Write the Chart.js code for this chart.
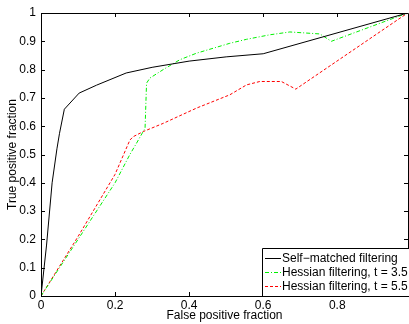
<!DOCTYPE html>
<html>
<head>
<meta charset="utf-8">
<script src="https://cdn.jsdelivr.net/npm/chart.js@4/dist/chart.umd.min.js"></script>
<style>
html,body{margin:0;padding:0;background:#fff;}
canvas{display:block;}
</style>
</head>
<body>
<canvas id="c" width="409" height="324"></canvas>
<script>
// ---- data ----
const seriesNames = ["Self\u2212matched filtering", "Hessian filtering, t = 3.5", "Hessian filtering, t = 5.5"];

const fprSelf = [0, 0.015, 0.03, 0.043, 0.05, 0.063, 0.103, 0.15, 0.23, 0.3, 0.4, 0.5, 0.6, 0.99];
const tprSelf = [0, 0.18, 0.40, 0.52, 0.575, 0.66, 0.717, 0.745, 0.788, 0.808, 0.83, 0.845, 0.856, 1.0];

const fprH35 = [0, 0.1, 0.2, 0.24, 0.258, 0.281, 0.285, 0.294, 0.33, 0.375, 0.42, 0.51, 0.555, 0.618, 0.672, 0.753, 0.784, 0.99];
const tprH35 = [0, 0.2, 0.40, 0.50, 0.54, 0.593, 0.752, 0.77, 0.80, 0.835, 0.858, 0.893, 0.907, 0.923, 0.933, 0.926, 0.90, 1.0];

const fprH55 = [0, 0.1, 0.2, 0.24, 0.249, 0.276, 0.33, 0.42, 0.51, 0.555, 0.591, 0.649, 0.688, 0.99];
const tprH55 = [0, 0.21, 0.43, 0.551, 0.563, 0.581, 0.61, 0.664, 0.711, 0.746, 0.758, 0.758, 0.731, 1.0];

const xTicks = [0, 0.2, 0.4, 0.6, 0.8];
const yTicks = [0, 0.1, 0.2, 0.3, 0.4, 0.5, 0.6, 0.7, 0.8, 0.9, 1];
const xTitle = "False positive fraction";
const yTitle = "True positive fraction";

const pts = (xs, ys) => xs.map((x, i) => ({x: x, y: ys[i]}));
const FONT = "'Liberation Sans', Arial, Helvetica, sans-serif";

const boxPlugin = {
  id: 'box',
  afterDraw(chart) {
    const ctx = chart.ctx, a = chart.chartArea;
    const xs = chart.scales.x, ys = chart.scales.y;
    ctx.save();
    ctx.strokeStyle = '#000';
    ctx.lineWidth = 1;
    // ticks inward
    ctx.beginPath();
    xs.ticks.forEach(t => {
      const p = Math.round(xs.getPixelForValue(t.value)) + 0.5;
      ctx.moveTo(p, a.bottom); ctx.lineTo(p, a.bottom - 4);
      ctx.moveTo(p, a.top); ctx.lineTo(p, a.top + 4);
    });
    ys.ticks.forEach(t => {
      const p = Math.round(ys.getPixelForValue(t.value)) + 0.5;
      ctx.moveTo(a.left, p); ctx.lineTo(a.left + 4, p);
      ctx.moveTo(a.right, p); ctx.lineTo(a.right - 4, p);
    });
    ctx.stroke();
    // axes box
    ctx.beginPath();
    ctx.rect(Math.round(a.left) + 0.5, Math.round(a.top) + 0.5, Math.round(a.right - a.left), Math.round(a.bottom - a.top));
    ctx.stroke();

    // legend in lower right
    const lx = 262, ly = 248, lr = a.right + 1, lb = a.bottom;
    ctx.fillStyle = '#fff';
    ctx.fillRect(lx, ly, lr - lx, lb - ly);
    ctx.beginPath();
    ctx.rect(lx + 0.5, ly + 0.5, lr - lx, lb - ly);
    ctx.stroke();
    ctx.font = '12px ' + FONT;
    ctx.textBaseline = 'middle';
    ctx.textAlign = 'left';
    const rows = [258.5, 272.5, 286.5];
    chart.data.datasets.forEach((ds, i) => {
      const y = rows[i];
      ctx.save();
      ctx.strokeStyle = ds.borderColor;
      ctx.lineWidth = ds.borderWidth;
      ctx.setLineDash(ds.borderDash || []);
      ctx.beginPath();
      ctx.moveTo(265, y); ctx.lineTo(281, y);
      ctx.stroke();
      ctx.restore();
      ctx.fillStyle = '#000';
      ctx.fillText(ds.label, 282, y);
    });
    ctx.restore();
  }
};

new Chart(document.getElementById('c'), {
  type: 'line',
  data: {
    datasets: [
      {label: seriesNames[0], data: pts(fprSelf, tprSelf), borderColor: '#000000', borderWidth: 1, pointRadius: 0, tension: 0},
      {label: seriesNames[1], data: pts(fprH35, tprH35), borderColor: '#00f000', borderWidth: 1, borderDash: [4, 2, 1, 2], pointRadius: 0, tension: 0},
      {label: seriesNames[2], data: pts(fprH55, tprH55), borderColor: '#ff0000', borderWidth: 1, borderDash: [3, 2], pointRadius: 0, tension: 0}
    ]
  },
  options: {
    responsive: false,
    devicePixelRatio: 1,
    animation: false,
    layout: {padding: {left: 0, right: 1, top: 13, bottom: 0}},
    plugins: {legend: {display: false}, tooltip: {enabled: false}},
    scales: {
      x: {
        type: 'linear', min: 0, max: 0.991,
        afterBuildTicks: s => { s.ticks = xTicks.map(v => ({value: v})); },
        afterFit: s => { s.height = 28; },
        grid: {display: false, drawTicks: false},
        border: {display: false},
        ticks: {padding: 2, color: '#000', font: {family: FONT, size: 12}, maxRotation: 0, autoSkip: false,
                callback: v => String(Math.round(v * 10) / 10)},
        title: {display: true, text: xTitle, color: '#000', font: {family: FONT, size: 12}, padding: {top: 0, bottom: 1}}
      },
      y: {
        type: 'linear', min: 0, max: 1,
        afterBuildTicks: s => { s.ticks = yTicks.map(v => ({value: v})); },
        afterFit: s => { s.width = 41; },
        grid: {display: false, drawTicks: false},
        border: {display: false},
        ticks: {padding: 5, color: '#000', font: {family: FONT, size: 12}, autoSkip: false,
                callback: v => String(Math.round(v * 10) / 10)},
        title: {display: true, text: yTitle, color: '#000', font: {family: FONT, size: 12}, padding: {top: 5, bottom: 0}}
      }
    }
  },
  plugins: [boxPlugin]
});
</script>
</body>
</html>
